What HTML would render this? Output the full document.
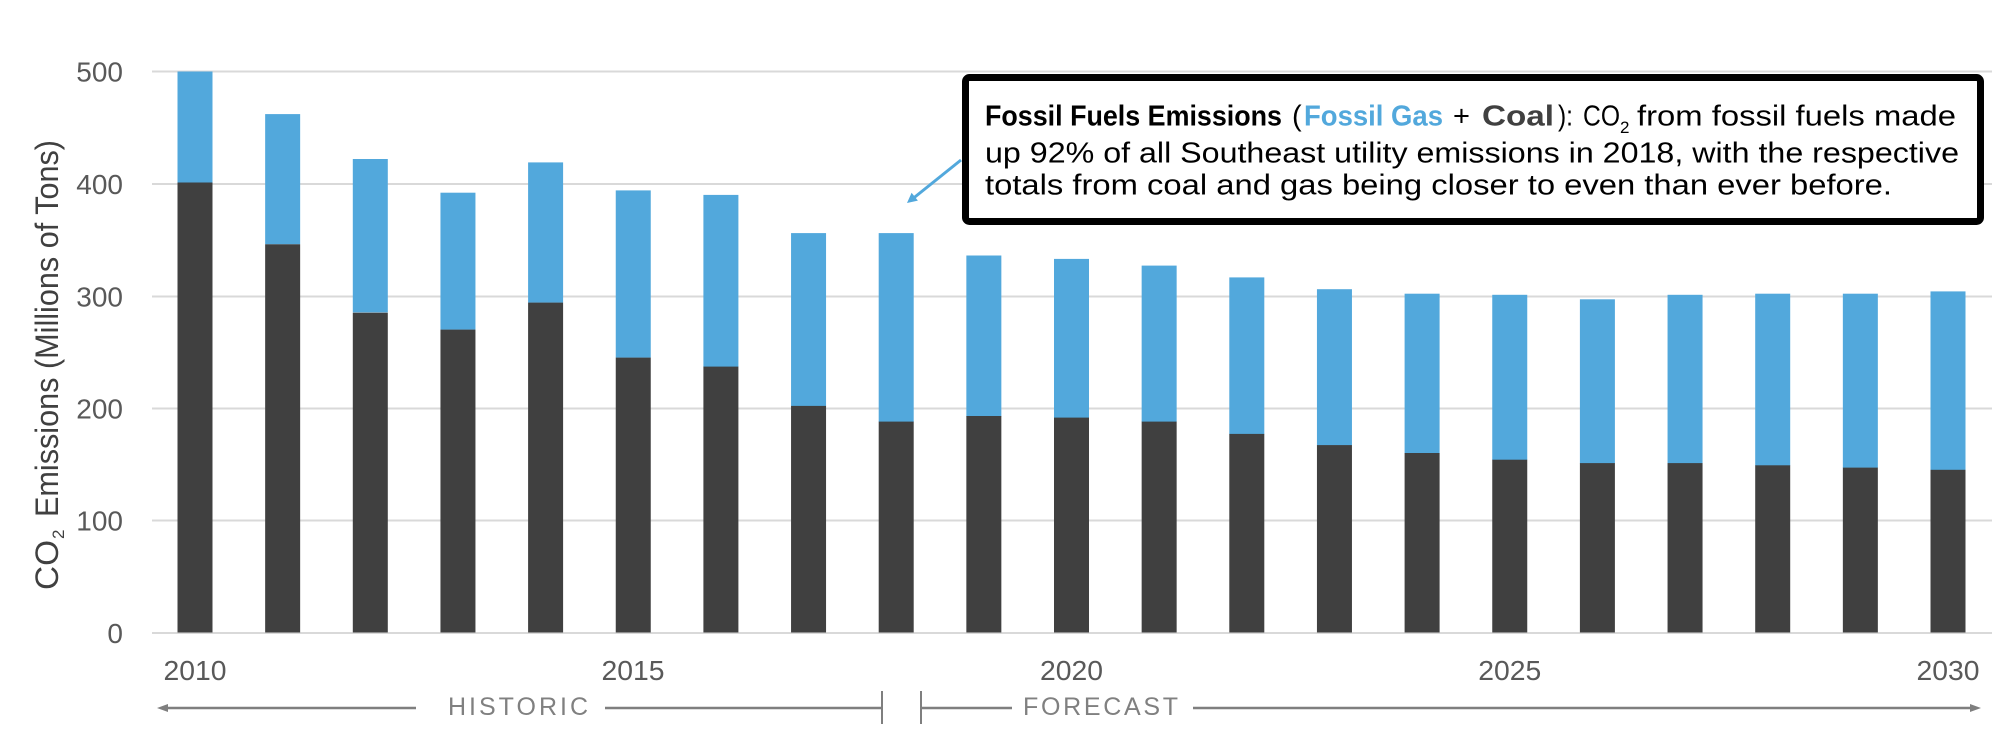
<!DOCTYPE html>
<html>
<head>
<meta charset="utf-8">
<style>
  html, body { margin: 0; padding: 0; background: #ffffff; }
  svg { display: block; }
  text { font-family: "Liberation Sans", "DejaVu Sans", sans-serif; }
</style>
</head>
<body>
<svg width="2016" height="754" viewBox="0 0 2016 754" xmlns="http://www.w3.org/2000/svg">
  <rect x="0" y="0" width="2016" height="754" fill="#ffffff"/>

  <!-- gridlines -->
  <g stroke="#d9d9d9" stroke-width="2">
    <line x1="152" y1="71.5" x2="1992" y2="71.5"/>
    <line x1="152" y1="184" x2="1992" y2="184"/>
    <line x1="152" y1="296.5" x2="1992" y2="296.5"/>
    <line x1="152" y1="408.5" x2="1992" y2="408.5"/>
    <line x1="152" y1="520.5" x2="1992" y2="520.5"/>
    <line x1="152" y1="633" x2="1992" y2="633"/>
  </g>

  <!-- y tick labels -->
  <g font-size="28" fill="#595959" text-anchor="end">
    <text x="123" y="81.5">500</text>
    <text x="123" y="194">400</text>
    <text x="123" y="306.5">300</text>
    <text x="123" y="418.5">200</text>
    <text x="123" y="530.5">100</text>
    <text x="123" y="643">0</text>
  </g>

  <!-- y axis title -->
  <g transform="translate(58,590) rotate(-90)" fill="#404040">
    <text x="0" y="0" font-size="32" textLength="50" lengthAdjust="spacingAndGlyphs">CO</text>
    <text x="51" y="6" font-size="17">2</text>
    <text x="73" y="0" font-size="32" textLength="377" lengthAdjust="spacingAndGlyphs">Emissions (Millions of Tons)</text>
  </g>

  <!-- bars -->
  <g>
    <rect x="177.5" y="71.5" width="35" height="112" fill="#52a8dc"/>
    <rect x="177.5" y="182.5" width="35" height="450" fill="#404040"/>

    <rect x="265.15" y="114.1" width="35" height="130.2" fill="#52a8dc"/>
    <rect x="265.15" y="244.3" width="35" height="388.2" fill="#404040"/>

    <rect x="352.8" y="159.0" width="35" height="153.4" fill="#52a8dc"/>
    <rect x="352.8" y="312.7" width="35" height="319.8" fill="#404040"/>

    <rect x="440.45" y="192.7" width="35" height="137.0" fill="#52a8dc"/>
    <rect x="440.45" y="329.6" width="35" height="302.9" fill="#404040"/>

    <rect x="528.1" y="162.4" width="35" height="140.3" fill="#52a8dc"/>
    <rect x="528.1" y="302.6" width="35" height="329.9" fill="#404040"/>

    <rect x="615.75" y="190.4" width="35" height="167.3" fill="#52a8dc"/>
    <rect x="615.75" y="357.6" width="35" height="274.9" fill="#404040"/>

    <rect x="703.4" y="194.9" width="35" height="172.3" fill="#52a8dc"/>
    <rect x="703.4" y="366.6" width="35" height="265.9" fill="#404040"/>

    <rect x="791.05" y="233.1" width="35" height="173.2" fill="#52a8dc"/>
    <rect x="791.05" y="405.9" width="35" height="226.6" fill="#404040"/>

    <rect x="878.7" y="233.1" width="35" height="189.0" fill="#52a8dc"/>
    <rect x="878.7" y="421.6" width="35" height="210.9" fill="#404040"/>

    <rect x="966.35" y="255.5" width="35" height="161.1" fill="#52a8dc"/>
    <rect x="966.35" y="416.0" width="35" height="216.5" fill="#404040"/>

    <rect x="1054.0" y="258.9" width="35" height="159.3" fill="#52a8dc"/>
    <rect x="1054.0" y="417.6" width="35" height="214.9" fill="#404040"/>

    <rect x="1141.65" y="265.6" width="35" height="156.4" fill="#52a8dc"/>
    <rect x="1141.65" y="421.6" width="35" height="210.9" fill="#404040"/>

    <rect x="1229.3" y="277.4" width="35" height="156.9" fill="#52a8dc"/>
    <rect x="1229.3" y="433.9" width="35" height="198.6" fill="#404040"/>

    <rect x="1316.95" y="289.2" width="35" height="156.4" fill="#52a8dc"/>
    <rect x="1316.95" y="445.1" width="35" height="187.4" fill="#404040"/>

    <rect x="1404.6" y="293.7" width="35" height="159.6" fill="#52a8dc"/>
    <rect x="1404.6" y="453.0" width="35" height="179.5" fill="#404040"/>

    <rect x="1492.25" y="294.8" width="35" height="165.3" fill="#52a8dc"/>
    <rect x="1492.25" y="459.7" width="35" height="172.8" fill="#404040"/>

    <rect x="1579.9" y="299.3" width="35" height="164.2" fill="#52a8dc"/>
    <rect x="1579.9" y="463.1" width="35" height="169.4" fill="#404040"/>

    <rect x="1667.55" y="294.8" width="35" height="168.7" fill="#52a8dc"/>
    <rect x="1667.55" y="463.1" width="35" height="169.4" fill="#404040"/>

    <rect x="1755.2" y="293.7" width="35" height="172.0" fill="#52a8dc"/>
    <rect x="1755.2" y="465.3" width="35" height="167.2" fill="#404040"/>

    <rect x="1842.85" y="293.7" width="35" height="174.2" fill="#52a8dc"/>
    <rect x="1842.85" y="467.6" width="35" height="164.9" fill="#404040"/>

    <rect x="1930.5" y="291.4" width="35" height="178.8" fill="#52a8dc"/>
    <rect x="1930.5" y="469.8" width="35" height="162.7" fill="#404040"/>
  </g>

  <!-- x labels -->
  <g font-size="28" fill="#595959" text-anchor="middle">
    <text x="195" y="680" textLength="63" lengthAdjust="spacingAndGlyphs">2010</text>
    <text x="633" y="680" textLength="63" lengthAdjust="spacingAndGlyphs">2015</text>
    <text x="1071.5" y="680" textLength="63" lengthAdjust="spacingAndGlyphs">2020</text>
    <text x="1509.75" y="680" textLength="63" lengthAdjust="spacingAndGlyphs">2025</text>
    <text x="1948" y="680" textLength="63" lengthAdjust="spacingAndGlyphs">2030</text>
  </g>

  <!-- historic / forecast -->
  <g stroke="#7f7f7f" stroke-width="2.5" fill="none">
    <line x1="164" y1="708" x2="416" y2="708"/>
    <line x1="605" y1="708" x2="882" y2="708"/>
    <line x1="882" y1="691" x2="882" y2="724" stroke-width="2"/>
    <line x1="921" y1="691" x2="921" y2="724" stroke-width="2"/>
    <line x1="921" y1="708" x2="1012" y2="708"/>
    <line x1="1193" y1="708" x2="1972" y2="708"/>
  </g>
  <polygon points="157,708 168,704 168,712" fill="#7f7f7f"/>
  <polygon points="1981,708 1970,704 1970,712" fill="#7f7f7f"/>
  <g font-size="25" fill="#808080">
    <text x="448" y="715" textLength="140" lengthAdjust="spacing">HISTORIC</text>
    <text x="1023" y="715" textLength="155" lengthAdjust="spacing">FORECAST</text>
  </g>

  <!-- annotation arrow -->
  <line x1="961" y1="160" x2="913" y2="198.5" stroke="#52a8dc" stroke-width="3"/>
  <polygon points="907,203 917.9,200.6 911.6,192.8" fill="#52a8dc"/>

  <!-- annotation box -->
  <rect x="965.5" y="77.5" width="1015" height="144" rx="4" ry="4" fill="#ffffff" stroke="#000000" stroke-width="7"/>

  <g font-size="29" fill="#000000">
    <text x="985" y="125.5" font-weight="bold" textLength="297" lengthAdjust="spacingAndGlyphs">Fossil Fuels Emissions</text>
    <text x="1292" y="125.5">(</text>
    <text x="1304" y="125.5" font-weight="bold" fill="#52a8dc" textLength="139" lengthAdjust="spacingAndGlyphs">Fossil Gas</text>
    <text x="1453" y="125.5">+</text>
    <text x="1482" y="125.5" font-weight="bold" fill="#404040" textLength="72" lengthAdjust="spacingAndGlyphs">Coal</text>
    <text x="1558" y="125.5" textLength="15" lengthAdjust="spacingAndGlyphs">):</text>
    <text x="1583" y="125.5" textLength="37" lengthAdjust="spacingAndGlyphs">CO</text>
    <text x="1620" y="133" font-size="17">2</text>
    <text x="1637" y="125.5" textLength="319" lengthAdjust="spacingAndGlyphs">from fossil fuels made</text>
    <text x="985" y="162.5" textLength="974" lengthAdjust="spacingAndGlyphs">up 92% of all Southeast utility emissions in 2018, with the respective</text>
    <text x="985" y="194.5" textLength="907" lengthAdjust="spacingAndGlyphs">totals from coal and gas being closer to even than ever before.</text>
  </g>
</svg>
</body>
</html>
